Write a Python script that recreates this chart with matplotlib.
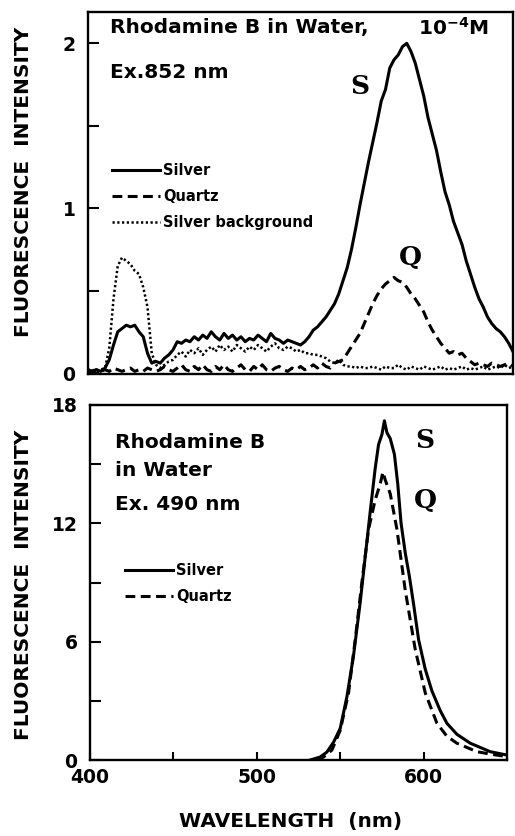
import numpy as np
import matplotlib
matplotlib.use("Agg")
import matplotlib.pyplot as plt

# ---------------- data: top panel (Ex. 852 nm) ----------------
wl_top = np.arange(400, 650.1, 2.5)
silver_top = [0.02, 0.01, 0.02, 0.01, 0.03, 0.08, 0.17, 0.25, 0.27, 0.29,
              0.28, 0.29, 0.25, 0.22, 0.12, 0.06, 0.07, 0.06, 0.09, 0.11,
              0.14, 0.19, 0.18, 0.20, 0.19, 0.22, 0.20, 0.23, 0.21, 0.25,
              0.22, 0.20, 0.24, 0.21, 0.23, 0.20, 0.22, 0.19, 0.21, 0.20,
              0.23, 0.21, 0.19, 0.24, 0.21, 0.20, 0.18, 0.20, 0.19, 0.18,
              0.17, 0.19, 0.22, 0.26, 0.28, 0.31, 0.34, 0.38, 0.42, 0.48,
              0.56, 0.64, 0.75, 0.88, 1.02, 1.15, 1.28, 1.40, 1.52, 1.65,
              1.72, 1.85, 1.90, 1.93, 1.98, 2.00, 1.95, 1.88, 1.78, 1.68,
              1.55, 1.45, 1.35, 1.22, 1.10, 1.02, 0.92, 0.85, 0.78, 0.68,
              0.60, 0.52, 0.45, 0.40, 0.34, 0.30, 0.27, 0.25, 0.22, 0.18,
              0.13]
quartz_top = [0.02, 0.01, 0.02, 0.01, 0.02, 0.01, 0.03, 0.02, 0.01, 0.02,
              0.03, 0.01, 0.02, 0.01, 0.03, 0.02, 0.01, 0.02, 0.04, 0.02,
              0.01, 0.03, 0.05, 0.02, 0.01, 0.04, 0.02, 0.05, 0.02, 0.01,
              0.04, 0.02, 0.05, 0.02, 0.01, 0.03, 0.05, 0.02, 0.01, 0.04,
              0.02, 0.05, 0.02, 0.01, 0.03, 0.04, 0.02, 0.01, 0.03, 0.02,
              0.04, 0.02, 0.03, 0.05, 0.03, 0.06, 0.04, 0.03, 0.06, 0.07,
              0.08, 0.12, 0.16, 0.20, 0.24, 0.30, 0.36, 0.42, 0.47, 0.51,
              0.54, 0.56, 0.58, 0.56, 0.55, 0.52, 0.48, 0.45, 0.41, 0.37,
              0.31, 0.26, 0.22, 0.18, 0.15, 0.12, 0.13, 0.11, 0.12, 0.09,
              0.07, 0.05, 0.06, 0.05, 0.04, 0.06, 0.05, 0.04, 0.05, 0.06,
              0.04]
background_top = [0.01, 0.02, 0.01, 0.02, 0.03, 0.15, 0.45, 0.65, 0.70, 0.68,
                  0.66, 0.62, 0.60, 0.52, 0.40, 0.12, 0.05, 0.03, 0.05, 0.07,
                  0.08, 0.11, 0.13, 0.10, 0.14, 0.12, 0.15, 0.11, 0.14, 0.16,
                  0.13, 0.17, 0.14, 0.16, 0.13, 0.17, 0.15, 0.13, 0.16, 0.14,
                  0.17, 0.15, 0.13, 0.16, 0.18, 0.15, 0.14, 0.16, 0.15, 0.13,
                  0.14, 0.12, 0.12, 0.11, 0.11, 0.10, 0.09, 0.07, 0.06, 0.08,
                  0.05, 0.04, 0.04, 0.03, 0.04, 0.03, 0.03, 0.04, 0.03, 0.02,
                  0.04, 0.03, 0.03, 0.05, 0.03, 0.02, 0.04, 0.03, 0.02, 0.04,
                  0.03, 0.02, 0.03, 0.04, 0.02, 0.03, 0.02, 0.03, 0.04, 0.02,
                  0.03, 0.02, 0.03, 0.04, 0.02, 0.03, 0.04, 0.03, 0.05, 0.03,
                  0.04]

# ---------------- data: bottom panel (Ex. 490 nm) ----------------
wl_silver_bot = [532, 538, 542, 546, 550, 554, 558, 562, 565, 568, 571, 573, 575,
                 576.5, 578, 580, 582.5, 584.5, 586.5, 589, 591.5, 594, 597, 601,
                 605, 610, 614, 620, 628, 640, 650]
silver_bot = [0, 0.15, 0.4, 0.9, 1.6, 3.2, 5.3, 8.0, 10.3, 12.6, 14.8, 16.0, 16.5,
              17.2, 16.6, 16.3, 15.5, 14.0, 12.0, 10.5, 9.3, 7.9, 6.1, 4.6,
              3.5, 2.5, 1.86, 1.3, 0.85, 0.42, 0.25]
wl_quartz_bot = [536, 540, 545, 550, 555, 559, 563, 567, 571, 574, 575.6, 577, 580,
                 584, 589, 595, 601, 608, 614, 620, 632, 640, 650]
quartz_bot = [0, 0.15, 0.5, 1.5, 3.4, 6.1, 9.0, 11.7, 13.2, 14.0, 14.6, 14.2, 13.5,
              11.7, 8.6, 5.6, 3.4, 1.86, 1.2, 0.85, 0.42, 0.3, 0.17]

top_yticks = [0, 1, 2]
top_yminor = [0.5, 1.5]
bot_yticks = [0, 6, 12, 18]
bot_yminor = [3, 9, 15]
xticks = [400, 500, 600]
xminor = [450, 550]

W, H = 515, 836
fig = plt.figure(figsize=(W / 100, H / 100), dpi=100)
plt.rcParams['font.family'] = ['DejaVu Sans']

def fx(x):
    return x / W

def fy(y):
    return 1 - y / H

ax1 = fig.add_axes([fx(88), fy(374), fx(513) - fx(88), fy(12) - fy(374)])
ax2 = fig.add_axes([fx(90), fy(760), fx(507) - fx(90), fy(405) - fy(760)])

lw = 2.2
dash = (0, (3.2, 1.8))
ax1.plot(wl_top, silver_top, color='black', lw=lw, label='Silver')
ax1.plot(wl_top, quartz_top, color='black', lw=lw, ls=dash, label='Quartz')
ax1.plot(wl_top, background_top, color='black', lw=1.8, ls=(0, (0.9, 1.0)),
         label='Silver background')
ax1.set_xlim(400, 650)
ax1.set_ylim(-0.006, 2.19)
ax1.set_yticks(top_yticks)
ax1.set_yticks(top_yminor, minor=True)
ax1.set_xticks([])

ax2.plot(wl_silver_bot, silver_bot, color='black', lw=lw, label='Silver')
ax2.plot(wl_quartz_bot, quartz_bot, color='black', lw=lw, ls=dash, label='Quartz')
ax2.set_xlim(400, 650)
ax2.set_ylim(0, 18)
ax2.set_yticks(bot_yticks)
ax2.set_yticks(bot_yminor, minor=True)
ax2.set_xticks(xticks)
ax2.set_xticks(xminor, minor=True)

for ax in (ax1, ax2):
    for s in ax.spines.values():
        s.set_linewidth(1.7)
    ax.tick_params(axis='both', which='both', direction='in', width=1.5,
                   labelsize=13.5, pad=9)
    ax.tick_params(axis='y', which='both', length=8, right=False)
    ax.tick_params(axis='x', which='both', length=6, top=False)
    for lab in ax.get_yticklabels() + ax.get_xticklabels():
        lab.set_fontweight('bold')

ax2.tick_params(axis='x', pad=6)

# y labels
for yc in (182, 585):
    fig.text(fx(24), fy(yc), 'FLUORESCENCE  INTENSITY', rotation=90,
             ha='center', va='center', fontsize=14.5, fontweight='bold')
fig.text(fx(291), fy(821), 'WAVELENGTH  (nm)', ha='center', va='center',
         fontsize=14.5, fontweight='bold')

# top annotations
fs_ann = 14.5
fig.text(fx(110), fy(28), 'Rhodamine B in Water,', ha='left', va='center',
         fontsize=fs_ann, fontweight='bold')
fig.text(fx(418), fy(28), r'10$^{\mathbf{-4}}$M', ha='left', va='center',
         fontsize=fs_ann, fontweight='bold')
fig.text(fx(110), fy(72), 'Ex.852 nm', ha='left', va='center',
         fontsize=fs_ann, fontweight='bold')
fig.text(fx(360), fy(87), 'S', ha='center', va='center', fontsize=19,
         fontweight='bold', family='DejaVu Serif')
fig.text(fx(410), fy(257), 'Q', ha='center', va='center', fontsize=19,
         fontweight='bold', family='DejaVu Serif')

# bottom annotations
for txt, yc in (('Rhodamine B', 442), ('in Water', 470), ('Ex. 490 nm', 505)):
    fig.text(fx(115), fy(yc), txt, ha='left', va='center', fontsize=fs_ann,
             fontweight='bold')
fig.text(fx(425), fy(440), 'S', ha='center', va='center', fontsize=19,
         fontweight='bold', family='DejaVu Serif')
fig.text(fx(425), fy(500), 'Q', ha='center', va='center', fontsize=19,
         fontweight='bold', family='DejaVu Serif')

leg1 = ax1.legend(loc='upper left', bbox_to_anchor=(fx(106), fy(157)),
                  bbox_transform=fig.transFigure, frameon=False,
                  prop={'weight': 'bold', 'size': 10.5}, handlelength=3.3,
                  handletextpad=0.2, labelspacing=0.75, borderaxespad=0)
leg2 = ax2.legend(loc='upper left', bbox_to_anchor=(fx(119), fy(557)),
                  bbox_transform=fig.transFigure, frameon=False,
                  prop={'weight': 'bold', 'size': 10.5}, handlelength=3.3,
                  handletextpad=0.2, labelspacing=0.75, borderaxespad=0)

fig.savefig('out.png', dpi=100)
